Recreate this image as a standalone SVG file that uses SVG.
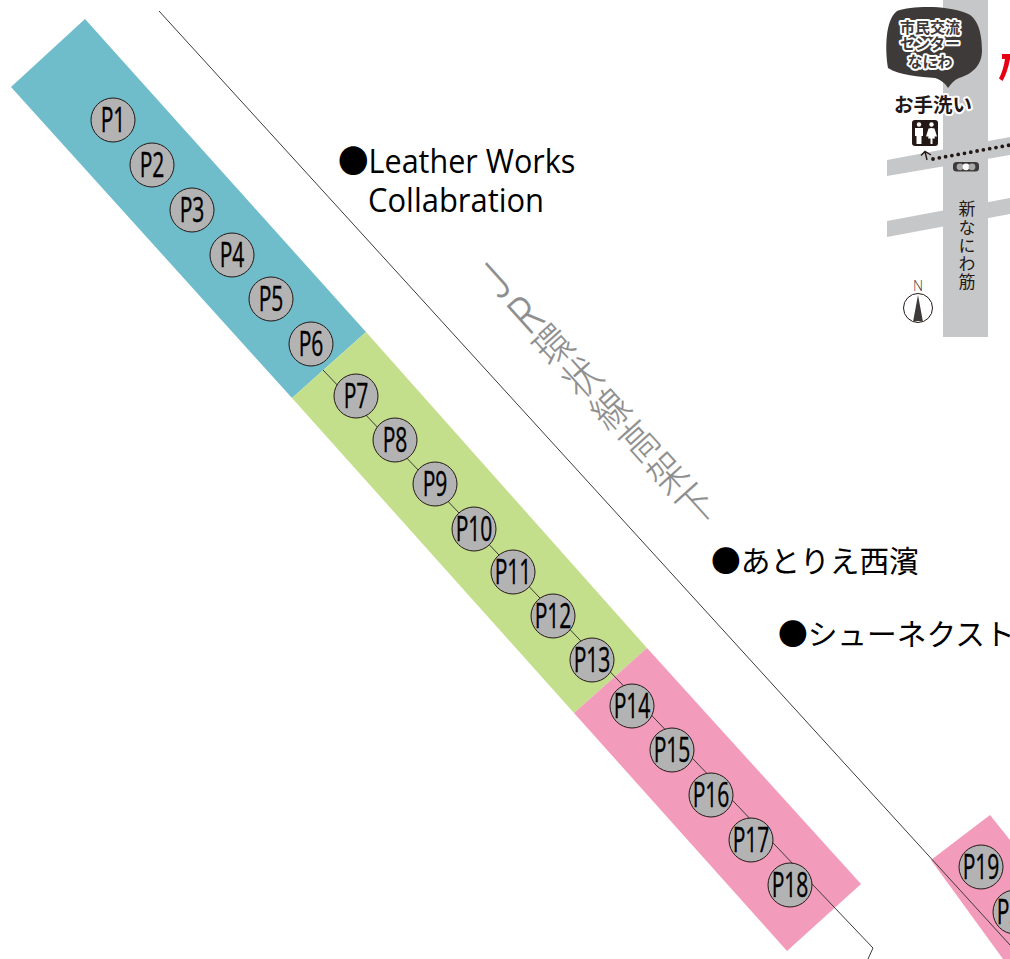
<svg xmlns="http://www.w3.org/2000/svg" width="1010" height="959" viewBox="0 0 1010 959">
<style>
.ln{fill:none;stroke:#3e3a39;stroke-width:1}
.c{fill:#b3b3b3;stroke:#231815;stroke-width:1}
.p{font-family:"Open Sans","Liberation Sans",sans-serif;font-size:34px;fill:#000;stroke:#000;stroke-width:.4;text-anchor:middle}
.t{font-family:"Open Sans","Noto Sans CJK JP",sans-serif;font-size:32px;fill:#000}
.j{font-family:"Noto Sans CJK JP",sans-serif;font-size:29.700px;fill:#000}
.g{font-family:"Noto Sans CJK JP",sans-serif;fill:#8e8e8e;stroke:#8e8e8e;stroke-width:.15;font-weight:300;font-size:34.500px;writing-mode:vertical-rl;text-orientation:upright}
.halo{font-family:"Noto Sans CJK JP",sans-serif;font-weight:700;text-anchor:middle;paint-order:stroke;stroke:#fff;stroke-linejoin:round}
</style>
<rect width="1010" height="959" fill="#fff"/>
<g id="areas">
<polygon points="85,19 366,332 292,398 11,87" fill="#6fbccb"/>
<polygon points="366,332 647,648 574,713 292,398" fill="#c3df8c"/>
<polygon points="647,648 861,884 787,951 574,713" fill="#f29bbb"/>
<polygon points="990,815 931,860 1003,959 1010,959 1010,840" fill="#f29bbb"/>
</g>
<g id="map">
<rect x="943" y="0" width="45" height="337" fill="#c6c7c9"/>
<polygon points="887,160 1010,137 1010,155 887,176" fill="#c6c7c9"/>
<polygon points="887,221 1010,198 1010,214 887,237" fill="#c6c7c9"/>
</g>
<g id="connectors">
<path class="ln" d="M159,11L1010,945"/>
<path class="ln" d="M323,370L873,948L868,959"/>
</g>
<g id="pins">
<g id="P1"><circle class="c" cx="113" cy="120" r="22"/><text class="p" transform="translate(113,132) scale(.62,1)">P1</text></g>
<g id="P2"><circle class="c" cx="152" cy="165" r="22"/><text class="p" transform="translate(152,177) scale(.62,1)">P2</text></g>
<g id="P3"><circle class="c" cx="192" cy="210" r="22"/><text class="p" transform="translate(192,222) scale(.62,1)">P3</text></g>
<g id="P4"><circle class="c" cx="232" cy="255" r="22"/><text class="p" transform="translate(232,267) scale(.62,1)">P4</text></g>
<g id="P5"><circle class="c" cx="271" cy="299" r="22"/><text class="p" transform="translate(271,311) scale(.62,1)">P5</text></g>
<g id="P6"><circle class="c" cx="311" cy="344" r="22"/><text class="p" transform="translate(311,356) scale(.62,1)">P6</text></g>
<g id="P7"><circle class="c" cx="356" cy="396" r="22"/><text class="p" transform="translate(356,408) scale(.62,1)">P7</text></g>
<g id="P8"><circle class="c" cx="395" cy="440" r="22"/><text class="p" transform="translate(395,452) scale(.62,1)">P8</text></g>
<g id="P9"><circle class="c" cx="435" cy="484" r="22"/><text class="p" transform="translate(435,496) scale(.62,1)">P9</text></g>
<g id="P10"><circle class="c" cx="474" cy="529" r="22"/><text class="p" transform="translate(474,541) scale(.62,1)">P10</text></g>
<g id="P11"><circle class="c" cx="513" cy="572" r="22"/><text class="p" transform="translate(513,584) scale(.62,1)">P11</text></g>
<g id="P12"><circle class="c" cx="553" cy="616" r="22"/><text class="p" transform="translate(553,628) scale(.62,1)">P12</text></g>
<g id="P13"><circle class="c" cx="592" cy="660" r="22"/><text class="p" transform="translate(592,672) scale(.62,1)">P13</text></g>
<g id="P14"><circle class="c" cx="632" cy="706" r="22"/><text class="p" transform="translate(632,718) scale(.62,1)">P14</text></g>
<g id="P15"><circle class="c" cx="672" cy="750" r="22"/><text class="p" transform="translate(672,762) scale(.62,1)">P15</text></g>
<g id="P16"><circle class="c" cx="711" cy="795" r="22"/><text class="p" transform="translate(711,807) scale(.62,1)">P16</text></g>
<g id="P17"><circle class="c" cx="751" cy="840" r="22"/><text class="p" transform="translate(751,852) scale(.62,1)">P17</text></g>
<g id="P18"><circle class="c" cx="790" cy="885" r="22"/><text class="p" transform="translate(790,897) scale(.62,1)">P18</text></g>
<g id="P19"><circle class="c" cx="981" cy="867" r="22"/><text class="p" transform="translate(981,879) scale(.62,1)">P19</text></g>
<g id="P20"><circle class="c" cx="1015" cy="912" r="22"/><text class="p" transform="translate(1015,924) scale(.62,1)">P20</text></g>
</g>
<g id="labels">
<text class="t" transform="translate(338,173) scale(.955,1)">●Leather Works</text>
<text class="t" transform="translate(368,212) scale(.967,1)">Collabration</text>
<text class="j" x="711" y="572">●あとりえ西濱</text>
<text class="j" x="778" y="645">●シューネクスト</text>
<text class="g" transform="translate(477,261) rotate(-42) scale(1,1.240)" x="0" y="0"><tspan style="font-size:41px;letter-spacing:-4px">JR</tspan>環状線高架下</text>
</g>
<g id="center">
<path d="M897,11C912,6 945,5 966,13C978,17 982,34 982,50C982,66 972,74 959,78C954,80 951,84 948,88C945,83 941,80 935,78C920,77 899,75 888,68C885,50 885,20 897,11Z" fill="#3e3a39"/>
<g class="halo" fill="#3e3a39" style="stroke-width:4px;font-size:15px">
<text x="930" y="33">市民交流</text>
<text x="930" y="49">センター</text>
<text x="930" y="67">なにわ</text>
</g>
<text class="halo" x="933" y="112" fill="#231815" style="stroke-width:4px;font-size:19.500px">お手洗い</text>
<g id="toilet">
<rect x="912" y="120" width="26" height="26" rx="3" fill="#231815"/>
<circle cx="919" cy="124.500" r="2.200" fill="#fff"/><circle cx="931.500" cy="124.500" r="2.200" fill="#fff"/>
<path d="M915,128h8v8h-1.500v8h-5v-8h-1.500zM931.500,128l3,.5 2.500,8h-2.500l.5,2h-2.500v5.500h-2v-5.500h-2.500l.5,-2h-2.500l2.500,-8z" fill="#fff"/>
</g>
<path d="M927,160L925,151.500M921,155.500L925,151.500L931,155" fill="none" stroke="#231815" stroke-width="1.400"/>
<path d="M933,159L1010,145" fill="none" stroke="#231815" stroke-width="3.800" stroke-linecap="round" stroke-dasharray="0 6.400"/>
<rect x="953" y="162" width="26" height="9.500" rx="3.500" fill="#3e3a39"/>
<circle cx="960" cy="166.800" r="3.400" fill="#a8a8a8"/><circle cx="966" cy="166.800" r="3.400" fill="#fff"/><circle cx="972" cy="166.800" r="3.400" fill="#a8a8a8"/>
<text x="967" y="200.500" style="font-family:'Noto Sans CJK JP',sans-serif;font-size:17px;fill:#231815;writing-mode:vertical-rl;letter-spacing:1.200px">新なにわ筋</text>
<g id="north">
<circle cx="918" cy="308" r="14.500" fill="#fff" stroke="#231815" stroke-width="1"/>
<path d="M918,295L913,322Q918,320 923,322Z" fill="#3e3a39"/>
<text x="918" y="291" text-anchor="middle" style="font-family:'Open Sans',sans-serif;font-size:14px;font-weight:300;fill:#3e3a39">N</text>
</g>
<path d="M1002,54H1010V59C1008.500,67 1006,75 1002.500,81L999,78.500C1002,73 1004,66 1005,59H1002Z" fill="#e60012"/>
</g>
</svg>
